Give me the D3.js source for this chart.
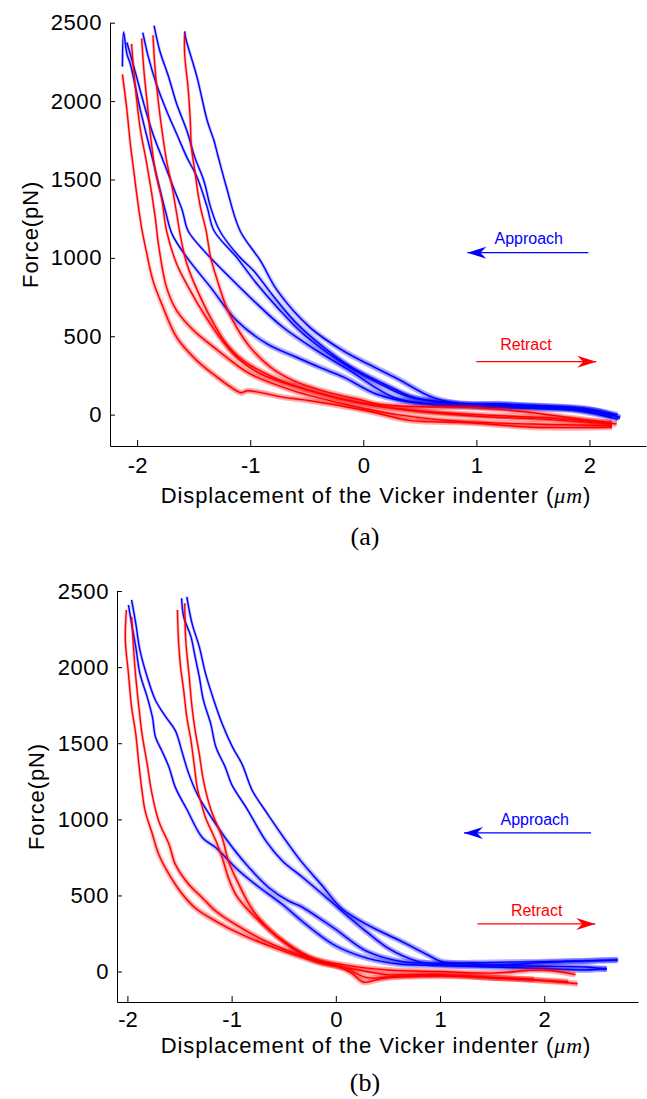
<!DOCTYPE html>
<html>
<head>
<meta charset="utf-8">
<script src="https://d3js.org/d3.v7.min.js"></script>
<style>
  body { margin: 0; background: #fff; }
  svg { display: block; font-family: "Liberation Sans", Arial, sans-serif; }
  .domain, .tick line { stroke: #000; stroke-width: 1; }
  .tick text { fill: #000; }
  .halo { fill: none; stroke-width: 3; stroke-opacity: 0.25; stroke-linejoin: round; }
  .band { fill: none; stroke-width: 6; stroke-opacity: 0.3; stroke-linejoin: round; }
  .core { fill: none; stroke-width: 1.4; stroke-linejoin: round; }
</style>
</head>
<body>
<svg id="chart" width="647" height="1099"></svg>
<script>
  // tick values
  const xTicks = [-2, -1, 0, 1, 2]
  const yTicks = [0, 500, 1000, 1500, 2000, 2500]

  // panel (a): displacement (um), force (pN)
  const a_approach = [
    [[-2.13,2220],[-2.12,2440],[-2.09,2300],[-2.06,2236],[-1.97,1939],[-1.86,1620],[-1.75,1300],[-1.69,1150],[-1.56,1003],[-1.35,812],[-1.12,600],[-0.85,451],[-0.59,366],[-0.38,300],[-0.17,238],[0.12,130],[0.5,70],[1.0,50],[1.5,40],[1.9,25],[2.25,-30]],
    [[-2.09,2374],[-2.02,2194],[-1.94,1981],[-1.86,1790],[-1.77,1620],[-1.68,1450],[-1.6,1301],[-1.55,1173],[-1.41,1046],[-1.21,897],[-0.97,727],[-0.71,557],[-0.41,408],[-0.12,281],[0.27,110],[0.6,70],[1.0,55],[1.5,45],[1.9,30],[2.2,-10]],
    [[-1.95,2437],[-1.9,2279],[-1.83,2109],[-1.74,1939],[-1.65,1790],[-1.56,1641],[-1.47,1514],[-1.38,1322],[-1.32,1173],[-1.12,1003],[-0.94,833],[-0.76,684],[-0.53,514],[-0.17,323],[0.21,174],[0.42,110],[0.8,70],[1.2,60],[1.6,50],[2.0,30],[2.25,0]],
    [[-1.85,2481],[-1.8,2321],[-1.72,2151],[-1.65,1981],[-1.56,1811],[-1.49,1641],[-1.41,1492],[-1.35,1322],[-1.27,1173],[-1.1,1010],[-0.97,918],[-0.8,760],[-0.6,590],[-0.35,430],[-0.1,300],[0.2,190],[0.45,110],[0.8,75],[1.2,65],[1.6,55],[2.0,35],[2.27,-20]],
    [[-1.58,2445],[-1.57,2400],[-1.47,2151],[-1.38,1875],[-1.32,1747],[-1.29,1664],[-1.21,1450],[-1.09,1173],[-0.91,982],[-0.76,791],[-0.47,555],[-0.18,408],[0.05,320],[0.3,230],[0.62,108],[0.92,65],[1.2,70],[1.5,55],[1.8,45],[2.1,20],[2.27,-20]]
  ]
  const a_retract = [
    [[-2.13,2170],[-2.09,1939],[-2.06,1726],[-2.03,1556],[-2.0,1386],[-1.96,1190],[-1.92,1046],[-1.86,855],[-1.77,684],[-1.65,493],[-1.47,344],[-1.29,238],[-1.12,152],[-1.08,140],[-1.02,152],[-0.7,110],[-0.47,89],[0.0,30],[0.42,-38],[0.9,-50],[1.5,-80],[2.2,-80]],
    [[-2.05,2365],[-2.03,2194],[-2.0,1981],[-1.97,1811],[-1.92,1620],[-1.88,1450],[-1.84,1258],[-1.81,1080],[-1.74,812],[-1.65,663],[-1.5,536],[-1.32,429],[-1.21,366],[-1.0,260],[-0.62,153],[-0.17,68],[0.3,0],[0.8,-40],[1.5,-60],[2.2,-70]],
    [[-1.96,2400],[-1.94,2194],[-1.91,1981],[-1.88,1769],[-1.84,1556],[-1.78,1365],[-1.74,1173],[-1.65,961],[-1.53,791],[-1.41,642],[-1.27,493],[-1.12,366],[-0.91,260],[-0.6,180],[-0.2,100],[0.1,60],[0.5,20],[1.0,-10],[1.6,-30],[2.2,-60]],
    [[-1.86,2420],[-1.84,2194],[-1.81,1981],[-1.78,1811],[-1.74,1620],[-1.69,1450],[-1.65,1280],[-1.62,1150],[-1.56,961],[-1.44,748],[-1.32,578],[-1.21,451],[-1.06,344],[-0.8,240],[-0.5,160],[0,70],[0.4,30],[1.0,0],[1.6,-20],[2.2,-50]],
    [[-1.58,2428],[-1.58,2300],[-1.55,2088],[-1.53,1875],[-1.52,1705],[-1.49,1556],[-1.47,1450],[-1.44,1322],[-1.39,1173],[-1.35,1003],[-1.29,855],[-1.21,684],[-1.12,557],[-1.0,429],[-0.82,302],[-0.62,217],[-0.3,140],[0,90],[0.12,68],[0.5,50],[0.92,47],[1.4,20],[1.8,-17],[2.24,-60]]
  ]

  // panel (b)
  const b_approach = [
    [[-1.99,2408],[-1.96,2287],[-1.92,2133],[-1.88,1957],[-1.81,1803],[-1.76,1671],[-1.73,1539],[-1.67,1451],[-1.6,1341],[-1.54,1210],[-1.43,1066],[-1.28,879],[-1.15,813],[-0.96,681],[-0.77,572],[-0.51,440],[-0.34,340],[-0.02,176],[0.3,88],[0.6,50],[1.0,40],[1.5,30],[2.0,20],[2.4,10],[2.6,20]],
    [[-1.96,2441],[-1.92,2287],[-1.88,2111],[-1.81,1935],[-1.73,1781],[-1.63,1671],[-1.54,1583],[-1.47,1429],[-1.41,1297],[-1.33,1166],[-1.15,967],[-0.99,813],[-0.83,681],[-0.64,549],[-0.45,462],[-0.34,430],[-0.02,286],[0.3,132],[0.63,66],[1.0,55],[1.5,60],[2.0,65],[2.4,70],[2.7,75]],
    [[-1.48,2452],[-1.46,2331],[-1.39,2199],[-1.35,2067],[-1.31,1935],[-1.27,1781],[-1.2,1627],[-1.15,1473],[-1.06,1341],[-1.0,1230],[-0.85,1066],[-0.67,857],[-0.51,725],[-0.32,620],[-0.13,510],[0.06,396],[0.29,264],[0.51,150],[0.77,70],[1.0,45],[1.5,40],[2.0,35],[2.4,30],[2.6,15]],
    [[-1.43,2462],[-1.38,2287],[-1.31,2133],[-1.25,1957],[-1.17,1781],[-1.09,1627],[-0.99,1473],[-0.9,1363],[-0.8,1187],[-0.67,1050],[-0.5,880],[-0.34,730],[-0.14,572],[0.05,418],[0.3,308],[0.63,198],[0.88,110],[1.01,66],[1.3,50],[1.6,44],[2.0,60],[2.4,70],[2.71,77]]
  ]
  const b_retract = [
    [[-2.01,2375],[-2.02,2177],[-1.99,1957],[-1.96,1737],[-1.92,1561],[-1.89,1363],[-1.86,1187],[-1.83,1055],[-1.76,902],[-1.7,770],[-1.6,638],[-1.47,506],[-1.35,418],[-1.15,330],[-0.9,242],[-0.58,154],[-0.19,66],[0.1,20],[0.3,-40],[0.6,-30],[1.0,-25],[1.5,-40],[2.0,-60],[2.32,-80]],
    [[-1.96,2331],[-1.94,2111],[-1.92,1935],[-1.89,1737],[-1.86,1561],[-1.81,1363],[-1.77,1187],[-1.7,989],[-1.6,835],[-1.54,704],[-1.41,572],[-1.28,484],[-1.15,396],[-0.96,308],[-0.67,198],[-0.35,110],[0,40],[0.15,-10],[0.27,-70],[0.45,-45],[1.0,-30],[1.5,-40],[1.9,-50]],
    [[-1.52,2375],[-1.51,2177],[-1.49,2001],[-1.46,1847],[-1.43,1671],[-1.39,1517],[-1.36,1363],[-1.33,1209],[-1.29,1100],[-1.25,1011],[-1.15,857],[-1.09,747],[-1.03,615],[-0.96,506],[-0.83,396],[-0.5,200],[-0.19,80],[0.08,44],[0.5,10],[1.0,0],[1.5,-10],[2.0,10],[2.3,-20]],
    [[-1.45,2420],[-1.44,2177],[-1.41,1957],[-1.38,1737],[-1.35,1583],[-1.31,1429],[-1.27,1253],[-1.2,1066],[-1.09,879],[-1.03,725],[-0.93,572],[-0.83,440],[-0.74,352],[-0.51,198],[-0.19,66],[0.13,22],[0.5,-20],[1.0,-20],[1.6,-44],[2.23,-66]]
  ]

  // annotation arrows in data units
  const a_arrows = [
    {label: "Approach", color: "#0000ff", tail: 1.99, tip: 0.92, y: 1033, tx: 1.16, ty: 1090},
    {label: "Retract", color: "#ff0000", tail: 1.0, tip: 2.06, y: 338, tx: 1.21, ty: 415}
  ]
  const b_arrows = [
    {label: "Approach", color: "#0000ff", tail: 2.45, tip: 1.23, y: 911, tx: 1.58, ty: 963},
    {label: "Retract", color: "#ff0000", tail: 1.36, tip: 2.49, y: 313, tx: 1.68, ty: 365}
  ]

  var svg = d3.select("#chart")
  var defs = svg.append("defs")
  ;[["blue", "#0000ff"], ["red", "#ff0000"]].forEach(c => {
    defs.append("marker")
      .attr("id", "head-" + c[0])
      .attr("viewBox", "-20 -7 21 14")
      .attr("refX", 0).attr("refY", 0)
      .attr("markerWidth", 21).attr("markerHeight", 14)
      .attr("markerUnits", "userSpaceOnUse")
      .attr("orient", "auto")
      .append("path")
      .attr("d", "M0,0L-19,-6L-13,0L-19,6Z")
      .attr("fill", c[1])
  })

  function drawPanel(p, id) {
    const x = d3.scaleLinear().domain(p.xDomain).range([p.left, p.right])
    const y = d3.scaleLinear().domain([-200, 2500]).range([p.bottom, p.top])
    const g = svg.append("g")

    // the noisy low-force part of the traces gets a wider band, faded in
    const grad = defs.append("linearGradient").attr("id", "fade-" + id)
      .attr("gradientUnits", "userSpaceOnUse")
      .attr("x1", 0).attr("x2", 0).attr("y1", y(1100)).attr("y2", y(350))
    grad.append("stop").attr("offset", 0).attr("stop-color", "#000")
    grad.append("stop").attr("offset", 1).attr("stop-color", "#fff")
    defs.append("mask").attr("id", "low-" + id)
      .attr("maskUnits", "userSpaceOnUse")
      .attr("x", 0).attr("y", p.top - 20).attr("width", 647).attr("height", p.bottom - p.top + 40)
      .append("rect")
      .attr("x", 0).attr("y", p.top - 20).attr("width", 647).attr("height", p.bottom - p.top + 40)
      .attr("fill", "url(#fade-" + id + ")")

    const line = d3.line()
      .x(d => x(d[0]))
      .y(d => y(d[1]))
      .curve(d3.curveCatmullRom.alpha(0.5))

    const drawSet = (set, color) => {
      set.forEach(curve => {
        g.append("path").datum(curve).attr("class", "halo").attr("stroke", color).attr("d", line)
        g.append("path").datum(curve).attr("class", "band").attr("stroke", color)
          .attr("mask", "url(#low-" + id + ")").attr("d", line)
      })
      set.forEach(curve => {
        g.append("path").datum(curve).attr("class", "core").attr("stroke", color).attr("d", line)
      })
    }
    drawSet(p.approach, "#0000ff")
    drawSet(p.retract, "#ff0000")

    // axes
    const xAxis = g.append("g")
      .attr("transform", "translate(0," + p.bottom + ")")
      .call(d3.axisBottom(x).tickValues(xTicks).tickFormat(d => String(d)).tickSizeInner(-6).tickSizeOuter(0))
    xAxis.selectAll(".tick text").attr("y", p.xTickY).attr("dy", null)
      .style("font-size", "22px").style("font-family", "Liberation Sans, Arial, sans-serif")
    xAxis.attr("font-size", null).attr("font-family", null)

    const yAxis = g.append("g")
      .attr("transform", "translate(" + p.left + ",0)")
      .call(d3.axisLeft(y).tickValues(yTicks).tickFormat(d => String(d)).tickSizeInner(-5).tickSizeOuter(0).tickPadding(8))
    yAxis.selectAll(".tick text")
      .style("font-size", "22px").style("font-family", "Liberation Sans, Arial, sans-serif")
      .style("letter-spacing", "0.6px")
    yAxis.attr("font-size", null).attr("font-family", null)

    // axis titles
    const xl = g.append("text")
      .attr("x", 376).attr("y", p.bottom + p.xLabelY)
      .attr("text-anchor", "middle")
      .style("font-size", "22px")
      .style("letter-spacing", "0.9px")
    xl.append("tspan").text("Displacement of the Vicker indenter (")
    xl.append("tspan").text("\u03bcm").style("font-style", "italic").style("font-family", "Liberation Serif, serif")
    xl.append("tspan").text(")")

    g.append("text")
      .attr("transform", "translate(" + p.yLabelX + "," + ((p.top + p.bottom) / 2) + ") rotate(-90)")
      .attr("text-anchor", "middle")
      .style("font-size", "22px")
      .style("letter-spacing", "0.9px")
      .text("Force(pN)")

    g.append("text")
      .attr("x", 365).attr("y", p.captionY)
      .attr("text-anchor", "middle")
      .style("font-family", "Liberation Serif, Times New Roman, serif")
      .style("font-size", "26px")
      .text(p.caption)

    // direction arrows
    p.arrows.forEach(a => {
      g.append("line")
        .attr("x1", x(a.tail)).attr("x2", x(a.tip))
        .attr("y1", y(a.y)).attr("y2", y(a.y))
        .attr("stroke", a.color).attr("stroke-width", 1.3)
        .attr("marker-end", "url(#head-" + (a.color == "#0000ff" ? "blue" : "red") + ")")
      g.append("text")
        .attr("x", x(a.tx)).attr("y", y(a.ty))
        .attr("fill", a.color)
        .style("font-size", "16px")
        .text(a.label)
    })
  }

  drawPanel({
    xDomain: [-2.24, 2.5], left: 110, right: 646, top: 22.7, bottom: 446,
    xTickY: 27, xLabelY: 57, yLabelX: 38, captionY: 545, caption: "(a)",
    approach: a_approach, retract: a_retract, arrows: a_arrows
  }, "a")
  drawPanel({
    xDomain: [-2.1, 2.9], left: 117, right: 638, top: 591, bottom: 1002,
    xTickY: 25, xLabelY: 51, yLabelX: 44, captionY: 1091, caption: "(b)",
    approach: b_approach, retract: b_retract, arrows: b_arrows
  }, "b")
</script>
</body>
</html>
